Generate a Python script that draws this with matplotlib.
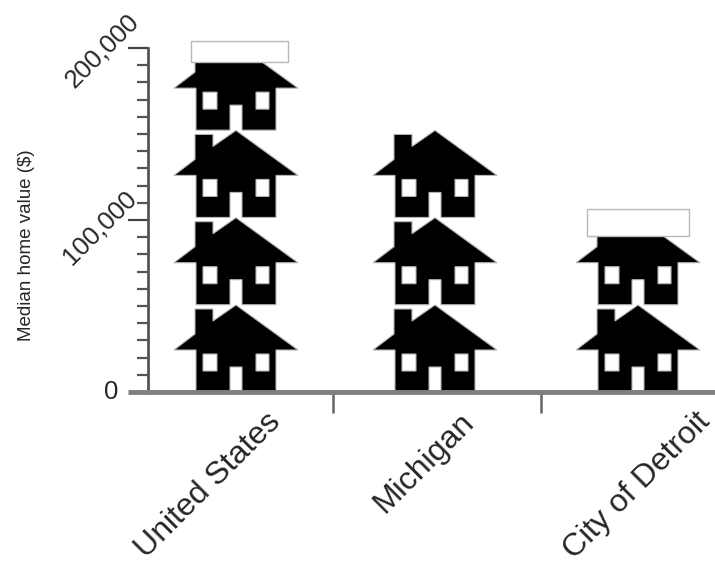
import matplotlib
matplotlib.use("Agg")
import matplotlib.pyplot as plt
from matplotlib.patches import PathPatch, Rectangle
from matplotlib.path import Path
from matplotlib.transforms import Affine2D

plt.rcParams["font.family"] = ["Liberation Sans", "DejaVu Sans"]

# data
categories = ["United States", "Michigan", "City of Detroit"]
median_value = [192000, 152200, 90700]
blank_top = [204000, None, 106500]
house_value = 50750
y_ticks = [0, 100000, 200000]
y_labels = ["0", "100,000", "200,000"]

# layout, x axis runs in pixels so the house outline can be used as measured
W, H = 715, 564
LEFT, BOTTOM, TOP = 148, 392, 48
centers = [236, 435, 638]
separators = [333, 541]
label_offsets = [(30, -15), (24, -15), (57, -15)]
y_label_offsets = [(-30, 0), (-15, 25), (-13, 30)]
blank_left = [191, None, 587]
blank_right = [288, None, 689]
PX_PER_VALUE = (BOTTOM - TOP) / 200000

GREY = "#7f7f7f"
TEXT = "#262626"

fig = plt.figure(figsize=(W / 100, H / 100), dpi=100)
ax = fig.add_axes([LEFT / W, 1 - BOTTOM / H, (W - LEFT) / W, (BOTTOM - TOP) / H])
ax.set_xlim(LEFT, W)
ax.set_ylim(0, 200000)

# house outline in pixels, measured from centre of the base
outline = [(-6, 0), (-6, 25), (6, 25), (6, 0), (40, 0), (40, 42), (62, 42), (0, 87),
           (-23, 71), (-23, 83), (-41, 83), (-41, 58), (-62, 42), (-40, 42), (-40, 0),
           (-6, 0)]
left_window = [(-33, 21), (-33, 38), (-19, 38), (-19, 21), (-33, 21)]
right_window = [(20, 21), (20, 38), (33, 38), (33, 21), (20, 21)]

verts, codes = [], []
for ring in [outline, left_window, right_window]:
    verts += ring
    codes += [Path.MOVETO] + [Path.LINETO] * (len(ring) - 2) + [Path.CLOSEPOLY]
house = Path(verts, codes)

for cx, value in zip(centers, median_value):
    clip = Rectangle((0, 0), W, value, transform=ax.transData)
    n = 0
    while n * house_value < value:
        base = n * house_value
        tr = Affine2D().scale(1, 1 / PX_PER_VALUE).translate(cx, base) + ax.transData
        p = PathPatch(house, facecolor="black", edgecolor="#b5b5b5", lw=0.8,
                      transform=tr, zorder=2, clip_on=True)
        ax.add_patch(p)
        p.set_clip_path(clip)
        n += 1

# white boxes that cover the cut-off part of the last house
for x0, x1, value, top in zip(blank_left, blank_right, median_value, blank_top):
    if top is None:
        continue
    ax.add_patch(Rectangle((x0, value), x1 - x0, top - value, facecolor="white",
                           edgecolor="#b8b8b8", lw=1.0, zorder=3, clip_on=False))

# axes
for side in ["top", "right"]:
    ax.spines[side].set_visible(False)
ax.spines["left"].set_color("#555555")
ax.spines["left"].set_linewidth(2)
ax.spines["bottom"].set_color(GREY)
ax.spines["bottom"].set_linewidth(3.5)
ax.spines["bottom"].set_zorder(4)

ax.set_yticks(y_ticks)
ax.set_yticks(range(0, 200001, 10000), minor=True)
ax.set_yticklabels([])
ax.tick_params(axis="y", which="major", length=14.5, width=1.6, color="#444444")
ax.tick_params(axis="y", which="minor", length=8, width=1.6, color="#555555")

# the tick at zero runs on from the grey base line
zero_tick = ax.yaxis.get_major_ticks()[0].tick1line
zero_tick.set_markeredgecolor(GREY)
zero_tick.set_markeredgewidth(3.5)

for tick, text, off in zip(y_ticks, y_labels, y_label_offsets):
    rot = 45 if text != "0" else 0
    ax.annotate(text, xy=(LEFT, tick), xycoords="data", xytext=off, textcoords="offset pixels",
                rotation=rot, rotation_mode="anchor", ha="right", va="center",
                fontsize=18.5, color=TEXT, annotation_clip=False)

ax.set_xticks(separators)
ax.set_xticklabels([])
ax.tick_params(axis="x", length=15, width=1.8, color="#666666")

for cx, name, off in zip(centers, categories, label_offsets):
    ax.annotate(name, xy=(cx, 0), xycoords="data", xytext=off, textcoords="offset pixels",
                rotation=45, rotation_mode="anchor", ha="right", va="top",
                fontsize=23, color=TEXT, annotation_clip=False)

fig.text(27 / W, 1 - 245 / H, "Median home value ($)", rotation=90, ha="center", va="center",
         fontsize=13.5, color=TEXT)

fig.savefig("out.png", dpi=100)
